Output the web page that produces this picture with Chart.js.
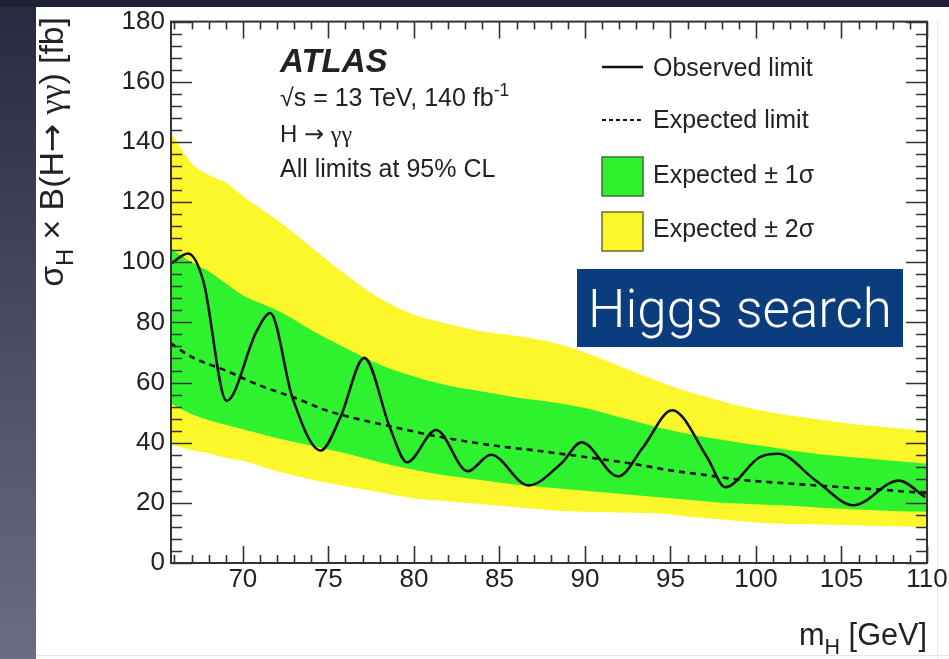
<!DOCTYPE html>
<html>
<head>
<meta charset="utf-8">
<script src="https://cdn.jsdelivr.net/npm/chart.js@4"></script>
<style>
  html, body { margin: 0; padding: 0; width: 949px; height: 659px; overflow: hidden; background: #fff; }
  canvas { display: block; }
</style>
</head>
<body>
<canvas id="limitChart" width="949" height="659"></canvas>
<script>
// observed limit (mH in GeV, sigma x B in fb)
const massObs = [65.8, 66.8, 67.7, 69.05, 70.8, 71.6, 72.9, 74.55, 75.7, 77.1, 78.6, 79.6, 81.3, 83.15, 84.5, 86.7, 88.6, 89.8, 91.95, 93.4, 95.1, 97.15, 98.2, 100.2, 101.3, 103.5, 105.7, 108.35, 109.9];
const limitObs = [99.5, 102.9, 93.5, 53.9, 77, 83.1, 55, 37.4, 48.4, 68.2, 45, 33.5, 44.2, 30.5, 36.0, 25.8, 33, 40.1, 28.8, 38.5, 50.8, 35.1, 25.2, 35.1, 36.3, 27.4, 19.2, 27.4, 21.9];

// expected limit
const massExp = [65.8, 67, 69, 71, 73, 75, 77, 79, 81, 83, 85, 87, 89, 91, 93, 95, 97, 99, 101, 103, 105, 107, 110];
const limitExp = [73, 68.5, 64, 59, 55, 50.5, 47.5, 45, 42.5, 40.5, 38.8, 37.5, 36, 34.5, 32.8, 30.8, 29.3, 27.7, 26.8, 26, 25.2, 24.5, 23.2];

// bands
const massBand = [65.8, 67, 68, 69, 70, 72, 74, 76, 78, 80, 82, 84, 86, 88, 90, 92, 94, 96, 98, 100, 102, 104, 106, 108, 110];
const sigma1Up = [104.5, 100, 97, 93, 89, 84, 77.5, 71.5, 66, 62, 59, 57, 55, 53.5, 51.5, 48.5, 45.5, 43, 41, 39.2, 37.5, 36, 35, 34, 33];
const sigma1Down = [53, 49.5, 47.5, 46, 44.5, 41.5, 39, 36.5, 33.5, 31, 29, 27.5, 26, 25, 24, 23, 22, 21, 20, 19.5, 19, 18.3, 17.8, 17.3, 17];
const sigma2Up = [143, 133, 129, 126.5, 122, 114, 105, 96, 88, 82.5, 79.5, 77, 75.5, 73.5, 70, 65.5, 61, 57, 53.8, 51, 49, 47.5, 46, 45, 44];
const sigma2Down = [39.5, 37.5, 36.5, 35, 34, 30.5, 27.8, 25.5, 23.5, 21.5, 20.5, 19.5, 18.5, 17.5, 17, 16.8, 16.5, 15.5, 14.5, 13.5, 13, 12.8, 12.5, 12.2, 12];

const xMajor = [70, 75, 80, 85, 90, 95, 100, 105, 110];
const yMajor = [0, 20, 40, 60, 80, 100, 120, 140, 160, 180];
const xMinorStep = 1;
const yMinorStep = 4;

const sans = "'Liberation Sans', Arial, Helvetica, sans-serif";
const serif = "'Liberation Serif', 'DejaVu Serif', serif";
const green = '#2ff22f';
const yellow = '#fcf72a';

const pts = (xs, ys) => xs.map((x, i) => ({ x: x, y: ys[i] }));

function partFont(p, size) {
  return (p.style || '') + ' ' + (p.sub || p.sup ? size * 0.7 : size) + 'px ' + (p.family || sans);
}

function partsWidth(c, parts, size) {
  return parts.reduce((sum, p) => { c.font = partFont(p, size); return sum + c.measureText(p.t).width; }, 0);
}

// draw a run of text pieces, some as sub/superscript
function drawParts(c, parts, x, y, size, align) {
  const total = partsWidth(c, parts, size);
  let cx = align === 'right' ? x - total : x;
  parts.forEach(p => {
    c.font = partFont(p, size);
    let dy = 0;
    if (p.sub) dy = size * 0.3;
    if (p.sup) dy = -size * 0.42;
    c.fillText(p.t, cx, y + dy);
    cx += c.measureText(p.t).width;
  });
  return total;
}

// pick a font size so the run spans a given width
function fitSize(c, parts, width) {
  return 20 * width / partsWidth(c, parts, 20);
}

const atlasDecor = {
  id: 'atlasDecor',
  beforeDraw(chart) {
    const c = chart.ctx;
    c.save();
    c.fillStyle = '#ffffff';
    c.fillRect(0, 0, chart.width, chart.height);
    const g = c.createLinearGradient(0, 0, 0, chart.height);
    g.addColorStop(0, '#272941');
    g.addColorStop(1, '#6c6d84');
    c.fillStyle = g;
    c.fillRect(0, 0, 36, chart.height);
    c.fillStyle = '#202137';
    c.fillRect(0, 0, chart.width, 7);
    c.strokeStyle = '#e4e4ee';
    c.lineWidth = 1;
    c.beginPath();
    c.moveTo(937.5, 20); c.lineTo(937.5, chart.height);
    c.moveTo(36, 655.5); c.lineTo(chart.width, 655.5);
    c.stroke();
    c.restore();
  },
  afterDatasetsDraw(chart) {
    const c = chart.ctx;
    const a = chart.chartArea;
    const xs = chart.scales.x, ys = chart.scales.y;
    c.save();
    c.strokeStyle = '#333';
    c.lineWidth = 1.6;
    c.beginPath();
    // x ticks, bottom and top
    for (let m = Math.ceil(xs.min); m <= xs.max; m += xMinorStep) {
      const px = Math.round(xs.getPixelForValue(m)) + 0.5;
      const len = xMajor.includes(m) ? 17 : 8;
      c.moveTo(px, a.bottom); c.lineTo(px, a.bottom - len);
      c.moveTo(px, a.top); c.lineTo(px, a.top + len);
    }
    // y ticks, left and right
    for (let v = ys.min; v <= ys.max; v += yMinorStep) {
      const py = Math.round(ys.getPixelForValue(v)) + 0.5;
      const len = yMajor.includes(v) ? 21 : 11;
      c.moveTo(a.left, py); c.lineTo(a.left + len, py);
      c.moveTo(a.right, py); c.lineTo(a.right - len, py);
    }
    c.stroke();
    c.lineWidth = 2;
    c.strokeRect(a.left, a.top, a.right - a.left, a.bottom - a.top);
    c.restore();
  },
  afterDraw(chart) {
    const c = chart.ctx;
    c.save();
    c.fillStyle = '#222';
    c.textBaseline = 'alphabetic';
    c.textAlign = 'left';

    // ATLAS label block
    c.font = 'italic bold 33px ' + sans;
    c.fillText('ATLAS', 280, 72);
    drawParts(c, [{ t: '\u221As = 13 TeV, 140 fb' }, { t: '-1', sup: true }], 280, 106, 25);
    drawParts(c, [{ t: 'H ' }, { t: '\u2192', family: "'DejaVu Sans', sans-serif" }, { t: ' ' }, { t: '\u03B3\u03B3', family: serif }], 280, 142, 24);
    c.font = '25px ' + sans;
    c.fillText('All limits at 95% CL', 280, 177);

    // legend
    c.strokeStyle = '#111';
    c.lineWidth = 2.5;
    c.beginPath(); c.moveTo(602, 67); c.lineTo(643, 67); c.stroke();
    c.setLineDash([4, 3]);
    c.lineWidth = 2;
    c.beginPath(); c.moveTo(602, 120); c.lineTo(643, 120); c.stroke();
    c.setLineDash([]);
    c.lineWidth = 1.5;
    c.fillStyle = green; c.fillRect(602, 157, 41, 39);
    c.strokeStyle = '#3f6f34'; c.strokeRect(602, 157, 41, 39);
    c.fillStyle = yellow; c.fillRect(602, 212, 41, 39);
    c.strokeStyle = '#6f6a2a'; c.strokeRect(602, 212, 41, 39);
    c.fillStyle = '#222';
    c.font = '25px ' + sans;
    c.fillText('Observed limit', 653, 76);
    c.fillText('Expected limit', 653, 128);
    c.fillText('Expected \u00B1 1\u03C3', 653, 183);
    c.fillText('Expected \u00B1 2\u03C3', 653, 237);

    // axis titles
    c.fillStyle = '#222';
    const xTitle = [{ t: 'm' }, { t: 'H', sub: true }, { t: ' [GeV]' }];
    drawParts(c, xTitle, 927, 645, fitSize(c, xTitle, 128), 'right');
    const yTitle = [{ t: '\u03C3' }, { t: 'H', sub: true }, { t: ' \u00D7 B(H' }, { t: '\u2192', family: "'DejaVu Sans', sans-serif" }, { t: ' ' }, { t: '\u03B3\u03B3', family: serif }, { t: ') [fb]' }];
    c.save();
    c.translate(63, 17);
    c.rotate(-Math.PI / 2);
    drawParts(c, yTitle, 0, 0, fitSize(c, yTitle, 270), 'right');
    c.restore();

    // slide caption box
    c.fillStyle = '#0b3d7e';
    c.fillRect(577, 269, 326, 78);
    c.fillStyle = '#ffffff';
    let fs = 52;
    c.font = '300 ' + fs + "px Roboto, 'Liberation Sans', sans-serif";
    const w = c.measureText('Higgs search').width;
    fs = fs * 304 / w;
    c.font = '300 ' + fs + "px Roboto, 'Liberation Sans', sans-serif";
    c.fillText('Higgs search', 588, 327);
    c.restore();
  }
};

new Chart('limitChart', {
  type: 'line',
  data: {
    datasets: [
      {
        label: 'Observed limit',
        data: pts(massObs, limitObs),
        borderColor: '#111',
        borderWidth: 2.6,
        pointRadius: 0,
        cubicInterpolationMode: 'monotone',
        fill: false,
      },
      {
        label: 'Expected limit',
        data: pts(massExp, limitExp),
        borderColor: '#111',
        borderWidth: 2.6,
        borderDash: [6, 5],
        pointRadius: 0,
        cubicInterpolationMode: 'monotone',
        fill: false,
      },
      {
        label: 'Expected \u00B1 1\u03C3',
        data: pts(massBand, sigma1Up),
        borderColor: 'transparent',
        borderWidth: 0,
        backgroundColor: green,
        pointRadius: 0,
        cubicInterpolationMode: 'monotone',
        fill: '+1',
      },
      {
        label: '1 sigma down',
        data: pts(massBand, sigma1Down),
        borderColor: 'transparent',
        borderWidth: 0,
        pointRadius: 0,
        cubicInterpolationMode: 'monotone',
        fill: false,
      },
      {
        label: 'Expected \u00B1 2\u03C3',
        data: pts(massBand, sigma2Up),
        borderColor: 'transparent',
        borderWidth: 0,
        backgroundColor: yellow,
        pointRadius: 0,
        cubicInterpolationMode: 'monotone',
        fill: '+1',
      },
      {
        label: '2 sigma down',
        data: pts(massBand, sigma2Down),
        borderColor: 'transparent',
        borderWidth: 0,
        pointRadius: 0,
        cubicInterpolationMode: 'monotone',
        fill: false,
      },
    ],
  },
  options: {
    responsive: false,
    animation: false,
    layout: { padding: { top: 18, right: 22, left: 0, bottom: 0 } },
    plugins: { legend: { display: false }, tooltip: { enabled: false } },
    scales: {
      x: {
        type: 'linear',
        min: 65.8,
        max: 110,
        grid: { display: false, drawTicks: false },
        border: { display: false },
        ticks: { font: { family: sans, size: 26 }, color: '#222', padding: 1, maxRotation: 0, autoSkip: false },
        afterBuildTicks: (s) => { s.ticks = xMajor.map(v => ({ value: v })); },
        afterFit: (s) => { s.height = 96; },
      },
      y: {
        type: 'linear',
        min: 0,
        max: 180,
        grid: { display: false, drawTicks: false },
        border: { display: false },
        ticks: { font: { family: sans, size: 26 }, color: '#222', padding: 6, autoSkip: false },
        afterBuildTicks: (s) => { s.ticks = yMajor.map(v => ({ value: v })); },
        afterFit: (s) => { s.width = 171; },
      },
    },
  },
  plugins: [atlasDecor],
});
</script>
</body>
</html>
